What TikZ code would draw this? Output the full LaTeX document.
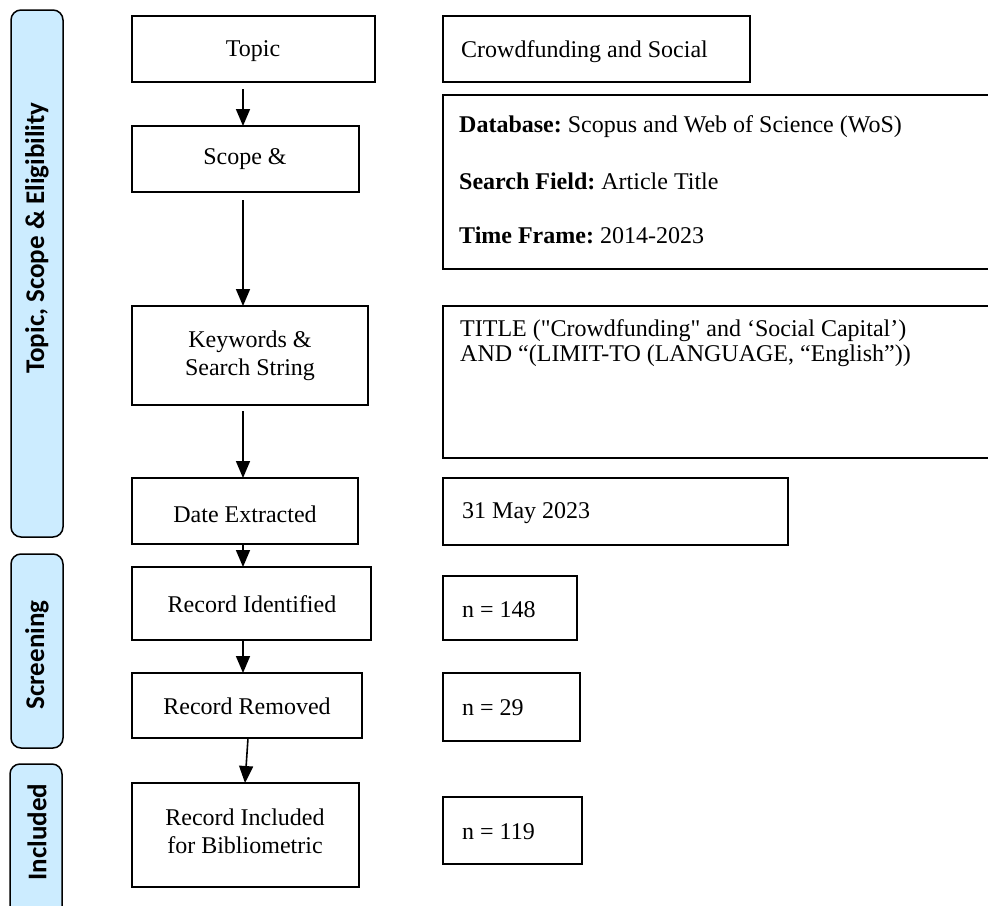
\documentclass[tikz,border=0pt]{standalone}
\usepackage{fontspec}
\setmainfont{Liberation Serif}
\newfontfamily\rawserif{Liberation Serif}[Ligatures=TeXOff]
\newfontfamily\barfont{Carlito}
\usetikzlibrary{arrows.meta}
\definecolor{barblue}{RGB}{204,236,255}
\frenchspacing
\tikzset{
  stagebar/.style={draw=black, line width=1.5pt, fill=barblue, rounded corners=10pt},
  stagetext/.style={font=\barfont\bfseries\fontsize{27}{30}\selectfont, rotate=90, anchor=center, inner sep=0pt},
  boxline/.style={draw=black, line width=2pt},
  ctext/.style={font=\fontsize{24}{28}\selectfont, anchor=center, align=center, inner sep=0pt},
  ltext/.style={font=\fontsize{24}{28}\selectfont, anchor=west, align=left, inner sep=0pt},
  stext/.style={font=\rawserif\fontsize{24}{25}\selectfont, anchor=west, align=left, inner sep=0pt},
  flow/.style={line width=1.6pt, -{Triangle[length=17pt,width=14pt]}}
}
\begin{document}
\begin{tikzpicture}[x=1pt,y=-1pt]
\useasboundingbox (0,0) rectangle (988,905);
% stage bars
\draw[stagebar] (11,10) rectangle (63,537);
\draw[stagebar] (11,554) rectangle (63,748);
\draw[stagebar] (10,764) rectangle (62,930);
\node[stagetext] (s1) at (37,238) {Topic, Scope \& Eligibility};
\node[stagetext] (s2) at (37,655) {Screening};
\node[stagetext] (s3) at (37,832) {Included};
% left column boxes
\draw[boxline] (132,16) rectangle (375,82);
\node[ctext] (topic) at (253,51) {Topic};
\coordinate (topicB) at (243,89);
\draw[boxline] (132,126) rectangle (359,192);
\node[ctext] (scope) at (245,159) {Scope \&};
\coordinate (scopeT) at (243,126);
\coordinate (scopeB) at (243,200);
\draw[boxline] (132,306) rectangle (368,405);
\node[ctext] (kw) at (250,356) {Keywords \&\\Search String};
\coordinate (kwT) at (243,306);
\coordinate (kwB) at (243,411);
\draw[boxline] (132,478) rectangle (358,544);
\node[ctext] (date) at (245,514) {Date Extracted};
\coordinate (dateT) at (243,478);
\coordinate (dateB) at (243,545);
\draw[boxline] (132,567) rectangle (371,640);
\node[ctext] (ident) at (252,604) {Record Identified};
\coordinate (identT) at (243,567);
\coordinate (identB) at (243,641);
\draw[boxline] (132,673) rectangle (362,738);
\node[ctext] (remov) at (247,706) {Record Removed};
\coordinate (removT) at (243,673);
\coordinate (removB) at (248,738);
\draw[boxline] (132,783) rectangle (359,887);
\node[ctext] (incl) at (245,831) {Record Included\\for Bibliometric};
\coordinate (inclT) at (245,783);
% arrows
\draw[flow] (topicB) -- (scopeT);
\draw[flow] (scopeB) -- (kwT);
\draw[flow] (kwB) -- (dateT);
\draw[flow] (dateB) -- (identT);
\draw[flow] (identB) -- (removT);
\draw[flow] (removB) -- (inclT);
% right column boxes
\draw[boxline] (443,16) rectangle (750,82);
\node[ltext] (crowd) at (461,52) {Crowdfunding and Social};
\draw[boxline] (443,95) rectangle (1000,269);
\node[ltext] (db) at (459,127) {\textbf{Database:} Scopus and Web of Science (WoS)};
\node[ltext] (sf) at (459,181) {\textbf{Search Field:} Article Title};
\node[ltext] (tf) at (459,235) {\textbf{Time Frame:} 2014-2023};
\draw[boxline] (443,306) rectangle (1000,458);
\node[stext] (title) at (460,343) {TITLE ("Crowdfunding" and ‘Social Capital’)\\AND “(LIMIT-TO (LANGUAGE, “English”))};
\draw[boxline] (443,478) rectangle (788,545);
\node[ltext] (may) at (462,513) {31 May 2023};
\draw[boxline] (443,576) rectangle (577,640);
\node[ltext] (n148) at (462,610) {n = 148};
\draw[boxline] (443,673) rectangle (580,741);
\node[ltext] (n29) at (462,708) {n = 29};
\draw[boxline] (443,797) rectangle (582,864);
\node[ltext] (n119) at (462,832) {n = 119};
\end{tikzpicture}
\end{document}
